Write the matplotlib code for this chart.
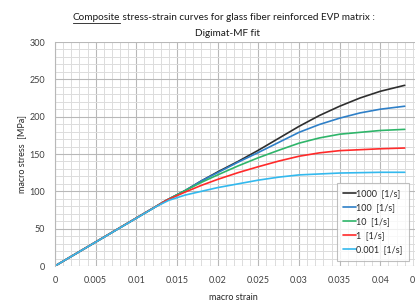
import numpy as np
import matplotlib
matplotlib.use("Agg")
import matplotlib.pyplot as plt

plt.rcParams['font.family'] = ['Lato', 'DejaVu Sans']

# strain rates (legend order)
rate_labels = ["1000  [1/s]", "100  [1/s]", "10  [1/s]", "1  [1/s]", "0.001  [1/s]"]
colors = ["#2e2e2e", "#2f80c8", "#2fb56a", "#ff2a2a", "#33b9ee"]

# (strain, stress MPa)
strain_1000 = [0, 0.0137, 0.016, 0.018, 0.02, 0.0225, 0.025, 0.0275, 0.03, 0.0325, 0.035, 0.0375, 0.04, 0.043]
stress_1000 = [0, 88, 101, 114, 126, 140, 155, 171, 187, 201.5, 214, 225, 234, 242]

strain_100 = [0, 0.0137, 0.016, 0.018, 0.02, 0.0225, 0.025, 0.0275, 0.03, 0.0325, 0.035, 0.0375, 0.04, 0.043]
stress_100 = [0, 88, 101, 114, 125, 139, 152, 165.5, 179, 189.5, 198, 205, 210, 214]

strain_10 = [0, 0.0137, 0.016, 0.018, 0.02, 0.0225, 0.025, 0.0275, 0.03, 0.0325, 0.035, 0.04, 0.043]
stress_10 = [0, 88, 101, 112, 122, 134, 145, 155, 164.5, 171.5, 176.5, 181.5, 183]

strain_1 = [0, 0.0137, 0.016, 0.018, 0.02, 0.0225, 0.025, 0.0275, 0.03, 0.0325, 0.035, 0.04, 0.043]
stress_1 = [0, 88, 99, 108, 116, 125, 133, 140.5, 147, 151.5, 154.5, 157, 158]

strain_0001 = [0, 0.0125, 0.014, 0.016, 0.018, 0.02, 0.0225, 0.025, 0.0275, 0.03, 0.035, 0.04, 0.043]
stress_0001 = [0, 80, 88, 95, 100, 105, 110, 115, 119, 122, 124.5, 125.5, 125.5]

series = [(strain_1000, stress_1000), (strain_100, stress_100), (strain_10, stress_10),
          (strain_1, stress_1), (strain_0001, stress_0001)]

fig = plt.figure(figsize=(4.15, 3.05), dpi=100)
ax = fig.add_axes([55 / 415, 39 / 305, 366 / 415, 224 / 305])

for (x, y), c, lab in zip(series, colors, rate_labels):
    ax.plot(x, y, color=c, lw=1.2, label=lab, solid_capstyle='round', solid_joinstyle='round')

ax.set_xlim(0, 0.045)
ax.set_ylim(0, 300)
ax.set_xticks(np.arange(0, 0.0451, 0.005))
ax.set_xticklabels(["0", "0.005", "0.01", "0.015", "0.02", "0.025", "0.03", "0.035", "0.04", "0.045"])
ax.set_xticks(np.arange(0, 0.0451, 0.001), minor=True)
ax.set_yticks(np.arange(0, 301, 50))
ax.set_yticks(np.arange(0, 301, 10), minor=True)
ax.grid(which='major', color='#b8b8b8', lw=0.8)
ax.grid(which='minor', color='#dcdcdc', lw=0.7)
ax.set_axisbelow(True)
ax.tick_params(which='both', length=0, labelsize=6.5, colors='#404040', pad=7)
for side in ['top', 'right', 'bottom']:
    ax.spines[side].set_visible(False)
ax.spines['left'].set_color('#b8b8b8')
ax.spines['left'].set_linewidth(0.8)

fig.text(233 / 415, 1 - 298 / 305, "macro strain", ha='center', va='center', fontsize=6.5, color='#262626')
fig.text(22 / 415, 1 - 154 / 305, "macro stress  [MPa]", ha='center', va='center',
         rotation=90, fontsize=6.5, color='#262626')

leg = ax.legend(loc='upper left', bbox_to_anchor=(337 / 415, 1 - 183 / 305),
                bbox_transform=fig.transFigure, fontsize=6.5, frameon=True, fancybox=False,
                handlelength=1.4, handletextpad=0.05, labelspacing=0.55, borderpad=0.7,
                borderaxespad=0)
leg.get_frame().set_edgecolor('#b0b0b0')
leg.get_frame().set_linewidth(0.8)
for t in leg.get_texts():
    t.set_color('#262626')

# title with underlined first word
fs = 7.2
t1 = fig.text(0, 1 - 17 / 305, "Composite", fontsize=fs, va='center', ha='left', color='#1a1a1a')
t2 = fig.text(0, 1 - 17 / 305, " stress-strain curves for glass fiber reinforced EVP matrix :",
              fontsize=fs, va='center', ha='left', color='#1a1a1a')
fig.text(227 / 415, 1 - 33 / 305, "Digimat-MF fit", fontsize=fs, va='center', ha='center', color='#1a1a1a')
fig.canvas.draw()
r = fig.canvas.get_renderer()
w1 = t1.get_window_extent(r).width
w2 = t2.get_window_extent(r).width
x0 = 224 - (w1 + w2) / 2
t1.set_x(x0 / 415)
t2.set_x((x0 + w1) / 415)
uy = 1 - 23 / 305
fig.add_artist(plt.Line2D([x0 / 415, (x0 + w1) / 415], [uy, uy], color='#1a1a1a', lw=0.6,
                          transform=fig.transFigure))

fig.savefig("out.png", dpi=100)
